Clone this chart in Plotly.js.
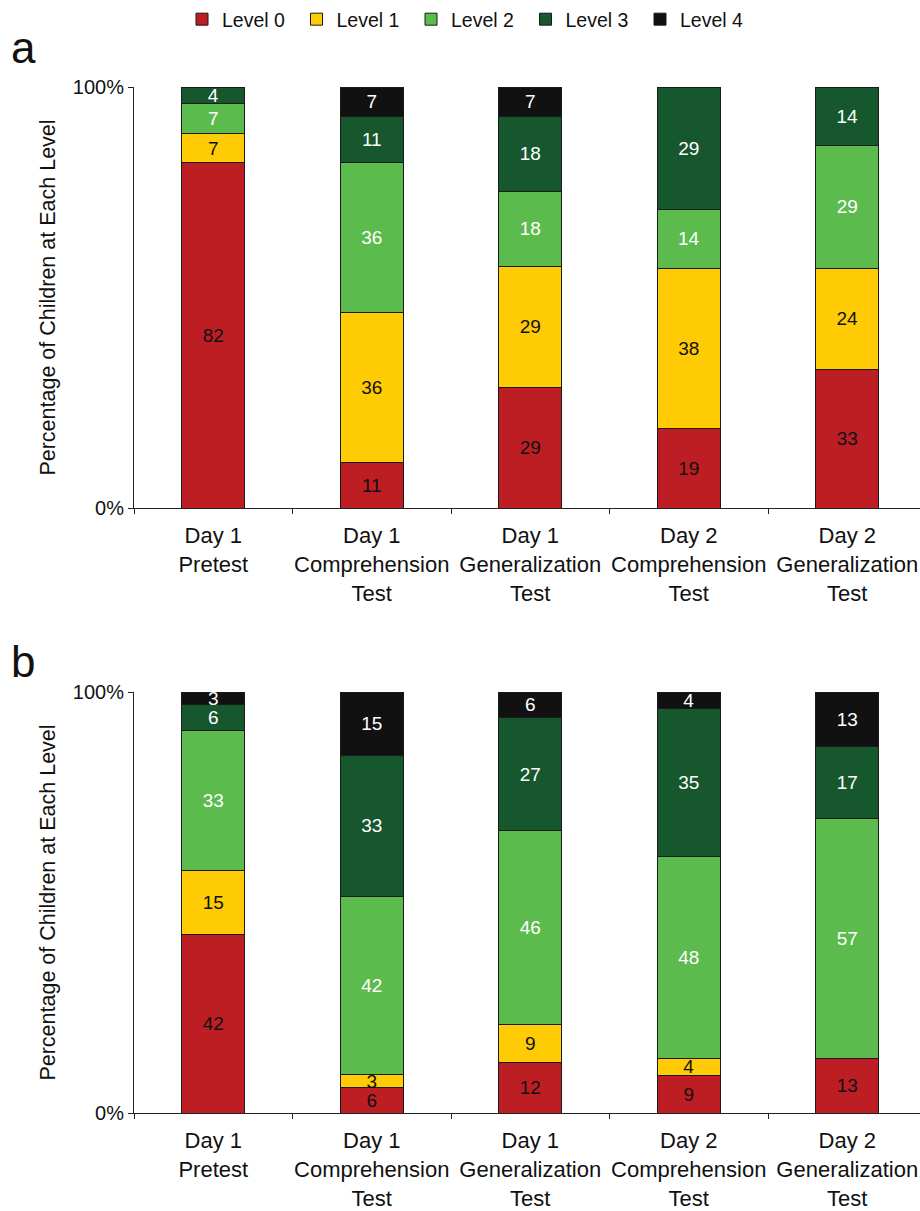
<!DOCTYPE html>
<html>
<head>
<meta charset="utf-8">
<script src="https://cdn.plot.ly/plotly-3.0.1.min.js"></script>
<style>
  html, body { margin: 0; padding: 0; background: #fff; }
  #chart { width: 920px; height: 1211px; }
</style>
</head>
<body>
<div id="chart"></div>
<script>
// ---- data ----
var categories = [
  'Day 1<br>Pretest',
  'Day 1<br>Comprehension<br>Test',
  'Day 1<br>Generalization<br>Test',
  'Day 2<br>Comprehension<br>Test',
  'Day 2<br>Generalization<br>Test'
];
var levelNames = ['Level 0', 'Level 1', 'Level 2', 'Level 3', 'Level 4'];

// Panel a
var a_level0 = [82, 11, 29, 19, 33];
var a_level1 = [7, 36, 29, 38, 24];
var a_level2 = [7, 36, 18, 14, 29];
var a_level3 = [4, 11, 18, 29, 14];
var a_level4 = [null, 7, 7, null, null];

// Panel b
var b_level0 = [42, 6, 12, 9, 13];
var b_level1 = [15, 3, 9, 4, null];
var b_level2 = [33, 42, 46, 48, 57];
var b_level3 = [6, 33, 27, 35, 17];
var b_level4 = [3, 15, 6, 4, 13];

var yTickVals = [0, 100];
var yTickText = ['0%', '100%'];
var yTitle = 'Percentage of Children at Each Level';

// ---- style ----
var FONT = '"Liberation Sans", Arial, sans-serif';
var colors = ['#BD1E24', '#FFCB05', '#5BBB4D', '#17572D', '#111111'];
var textColors = ['#111111', '#111111', '#ffffff', '#ffffff', '#ffffff'];

var panelA = [a_level0, a_level1, a_level2, a_level3, a_level4];
var panelB = [b_level0, b_level1, b_level2, b_level3, b_level4];

function makeTraces(panel, xa, ya, showLegend) {
  return panel.map(function (vals, i) {
    return {
      type: 'bar',
      name: levelNames[i],
      legendgroup: levelNames[i],
      showlegend: showLegend,
      x: categories,
      y: vals,
      xaxis: xa,
      yaxis: ya,
      width: 0.4,
      text: vals.map(function (v) { return v == null ? '' : String(v); }),
      texttemplate: '%{text}',
      textposition: 'inside',
      insidetextanchor: 'middle',
      constraintext: 'none',
      textangle: 0,
      insidetextfont: { family: FONT, size: 19, color: textColors[i] },
      marker: { color: colors[i], line: { color: '#1a1a1a', width: 1 } },
      hoverinfo: 'skip'
    };
  });
}

var data = makeTraces(panelA, 'x', 'y', true).concat(makeTraces(panelB, 'x2', 'y2', false));

var W = 920, H = 1211;
var xLeft = 134 / W;
var spacing = 158.5;
var xMax = (W - 134) / spacing - 0.5;

function xaxisDef(anchor) {
  return {
    domain: [xLeft, 1],
    range: [-0.5, xMax],
    anchor: anchor,
    showline: true,
    linecolor: '#222',
    linewidth: 1,
    ticks: 'outside',
    tickson: 'boundaries',
    ticklen: 5,
    tickcolor: '#222',
    tickangle: 0,
    ticklabelstandoff: 8,
    showgrid: false,
    zeroline: false,
    tickfont: { family: FONT, size: 22, color: '#111' },
    fixedrange: true
  };
}
function yaxisDef(anchor, top, bottom) {
  return {
    domain: [(H - bottom) / H, (H - top) / H],
    range: [0, 100],
    anchor: anchor,
    showline: true,
    linecolor: '#222',
    linewidth: 1,
    ticks: 'outside',
    ticklen: 5,
    tickcolor: '#222',
    tickvals: yTickVals,
    ticktext: yTickText,
    showgrid: false,
    zeroline: false,
    tickfont: { family: FONT, size: 20, color: '#111' },
    title: { text: yTitle, font: { family: FONT, size: 21.5, color: '#111' }, standoff: 11 },
    fixedrange: true
  };
}

var layout = {
  width: W,
  height: H,
  margin: { l: 0, r: 0, t: 0, b: 0, pad: 0 },
  paper_bgcolor: '#fff',
  plot_bgcolor: '#fff',
  barmode: 'stack',
  barnorm: 'percent',
  showlegend: true,
  legend: {
    orientation: 'h',
    x: 182 / W,
    xanchor: 'left',
    y: 1,
    yanchor: 'top',
    entrywidth: 69.5,
    entrywidthmode: 'pixels',
    traceorder: 'normal',
    font: { family: FONT, size: 19.5, color: '#111' },
    bgcolor: 'rgba(0,0,0,0)'
  },
  xaxis: xaxisDef('y'),
  yaxis: yaxisDef('x', 87, 508),
  xaxis2: xaxisDef('y2'),
  yaxis2: yaxisDef('x2', 692, 1113),
  annotations: [
    { text: 'a', xref: 'paper', yref: 'paper', x: 9 / W, y: (H - 74) / H, xanchor: 'left', yanchor: 'bottom',
      showarrow: false, font: { family: FONT, size: 44, color: '#111' } },
    { text: 'b', xref: 'paper', yref: 'paper', x: 9 / W, y: (H - 688) / H, xanchor: 'left', yanchor: 'bottom',
      showarrow: false, font: { family: FONT, size: 44, color: '#111' } }
  ]
};

Plotly.newPlot('chart', data, layout, { staticPlot: true, displayModeBar: false });
</script>
</body>
</html>
